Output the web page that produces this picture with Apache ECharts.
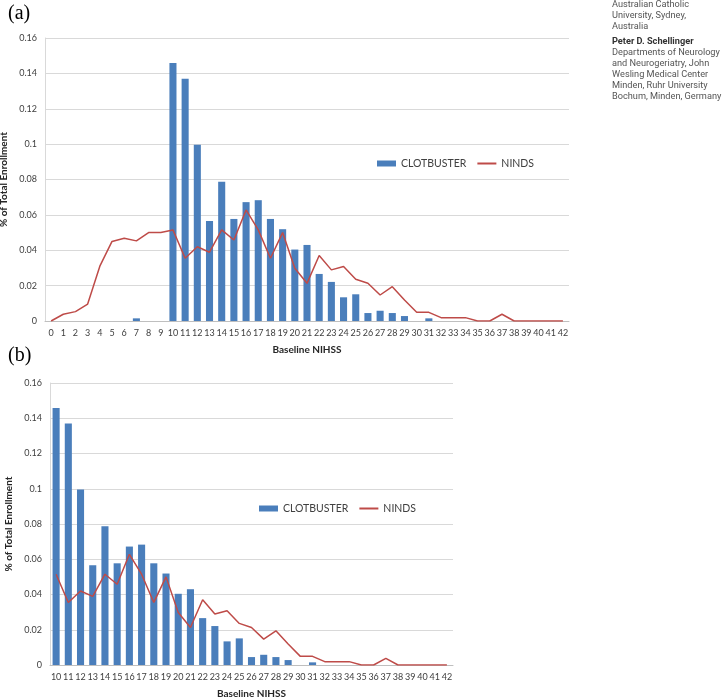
<!DOCTYPE html>
<html><head><meta charset="utf-8">
<script src="https://cdn.jsdelivr.net/npm/echarts@6/dist/echarts.min.js"></script>
<style>html,body{margin:0;padding:0;background:#fff}#c{width:722px;height:698px}</style>
</head><body><div id="c"></div>
<script>
// Baseline NIHSS categories 0..42
const nihss = ['0','1','2','3','4','5','6','7','8','9','10','11','12','13','14','15','16','17','18','19','20','21','22','23','24','25','26','27','28','29','30','31','32','33','34','35','36','37','38','39','40','41','42'];
const clotbuster = [0,0,0,0,0,0,0,0.0015,0,0,0.1458,0.137,0.0996,0.0566,0.0787,0.0577,0.0672,0.0683,0.0577,0.0519,0.0404,0.043,0.0266,0.0221,0.0134,0.0151,0.0045,0.0058,0.0045,0.0028,0,0.0015,0,0,0,0,0,0,0,0,0,0,0];
const ninds = [0,0.0038,0.0053,0.0096,0.031,0.045,0.0468,0.0453,0.05,0.05,0.0515,0.0355,0.042,0.0389,0.0515,0.0458,0.0628,0.0515,0.0355,0.05,0.0298,0.0213,0.037,0.0289,0.0308,0.0236,0.0213,0.0147,0.0194,0.0119,0.0049,0.0049,0.0019,0.0019,0.0019,0,0,0.0038,0,0,0,0,0];
const yTicks = [0,0.02,0.04,0.06,0.08,0.1,0.12,0.14,0.16];
const yName = '% of Total Enrollment';
const xName = 'Baseline NIHSS';
const sideText = ['Australian Catholic','University, Sydney,','Australia'];
const sideName = 'Peter D. Schellinger';
const sideText2 = ['Departments of Neurology','and Neurogeriatry, John','Wesling Medical Center','Minden, Ruhr University','Bochum, Minden, Germany'];

const FONT = 'Lato';
const barColor = '#4a7ebb';
const lineColor = '#be4b48';
const startB = 10;

function xAxis(gi, cats){
  return {type:'category', gridIndex:gi, data:cats, boundaryGap:true,
    axisTick:{show:false}, axisLine:{lineStyle:{color:'#bfbfbf'}},
    axisLabel:{interval:0, fontSize:9, color:'#404040', fontFamily:FONT, margin:8},
    name:xName, nameLocation:'middle', nameGap:24,
    nameTextStyle:{fontSize:10, fontWeight:'bold', color:'#262626', fontFamily:FONT}};
}
function yAxis(gi){
  return {type:'value', gridIndex:gi, min:0, max:0.16, interval:0.02,
    axisLine:{show:true, lineStyle:{color:'#d9d9d9'}}, axisTick:{show:false},
    splitLine:{lineStyle:{color:'#d9d9d9'}},
    axisLabel:{fontSize:9, color:'#404040', fontFamily:FONT, margin:8,
      formatter: v => { const t = yTicks.find(x => Math.abs(x - v) < 1e-9); return String(+(t ?? v).toFixed(2)); }},
    name:yName, nameLocation:'middle', nameGap:30, nameRotate:90,
    nameTextStyle:{fontSize:10, fontWeight:'bold', color:'#262626', fontFamily:FONT}};
}
function legend(left, top){
  return {left:left, top:top, itemWidth:19, itemHeight:6, itemGap:10,
    textStyle:{fontSize:10.5, color:'#404040', fontFamily:FONT},
    data:[{name:'CLOTBUSTER', icon:'rect'}, {name:'NINDS', itemStyle:{opacity:0}}]};
}

const graphics = [
  {type:'text', left:8, top:4, style:{text:'(a)', font:'20px "Liberation Serif"', fill:'#000'}},
  {type:'text', left:8, top:346, style:{text:'(b)', font:'20px "Liberation Serif"', fill:'#000'}}
];
let yy = 0;
const sideFont = '9.2px "Roboto"';
sideText.forEach(t => { graphics.push({type:'text', left:612, top:yy, style:{text:t, font:sideFont, fill:'#555'}}); yy += 11; });
yy += 4;
graphics.push({type:'text', left:612, top:yy, style:{text:sideName, font:'bold ' + sideFont, fill:'#333'}}); yy += 11;
sideText2.forEach(t => { graphics.push({type:'text', left:612, top:yy, style:{text:t, font:sideFont, fill:'#555'}}); yy += 11; });

const option = {
  animation:false,
  grid:[{left:45, right:153, top:38, bottom:377, containLabel:false, outerBoundsMode:'none'},
        {left:50, right:269, top:383, bottom:33, containLabel:false, outerBoundsMode:'none'}],
  xAxis:[xAxis(0, nihss), xAxis(1, nihss.slice(startB))],
  yAxis:[yAxis(0), yAxis(1)],
  legend:[legend(372, 153), legend(254, 498)],
  graphic: graphics,
  series:[
    {name:'CLOTBUSTER', type:'bar', xAxisIndex:0, yAxisIndex:0, data:clotbuster, barWidth:'58%', itemStyle:{color:barColor}},
    {name:'NINDS', type:'line', xAxisIndex:0, yAxisIndex:0, data:ninds, symbol:'none', lineStyle:{color:lineColor, width:1.5}, itemStyle:{color:lineColor}},
    {name:'CLOTBUSTER', type:'bar', xAxisIndex:1, yAxisIndex:1, data:clotbuster.slice(startB), barWidth:'58%', itemStyle:{color:barColor}},
    {name:'NINDS', type:'line', xAxisIndex:1, yAxisIndex:1, data:ninds.slice(startB), symbol:'none', lineStyle:{color:lineColor, width:1.5}, itemStyle:{color:lineColor}}
  ]
};
echarts.init(document.getElementById('c'), null, {renderer:'canvas'}).setOption(option);
</script></body></html>
